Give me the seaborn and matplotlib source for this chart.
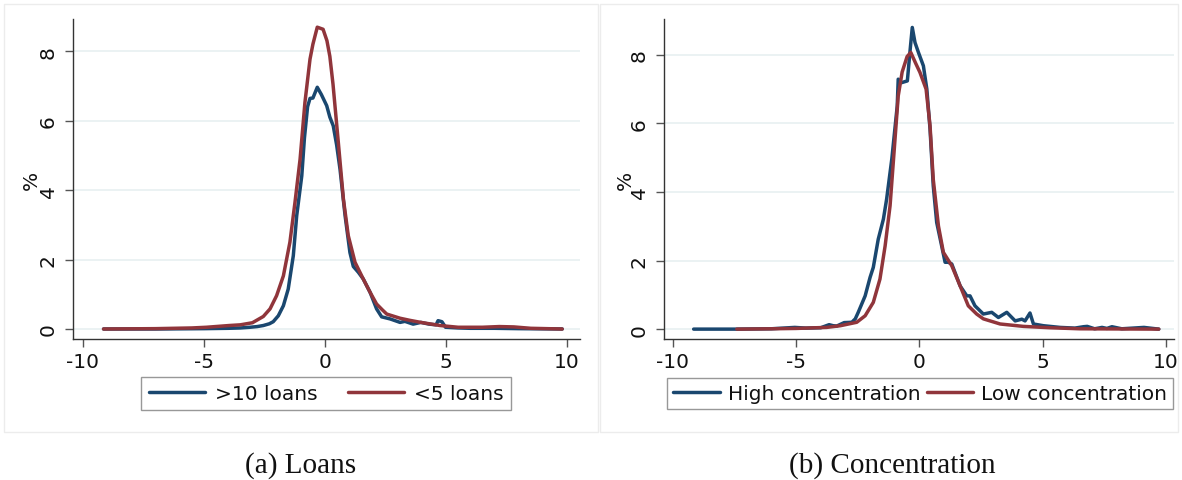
import numpy as np
import pandas as pd
import matplotlib
matplotlib.use("Agg")
import matplotlib.pyplot as plt
from matplotlib.patches import Rectangle
import seaborn as sns

# values (x = change, y = %)
loans_many_x = [-9.15, -7.0, -5.0, -4.0, -3.5, -3.1, -2.8, -2.55, -2.3, -2.14, -1.93, -1.72, -1.52,
                -1.31, -1.17, -0.96, -0.85, -0.72, -0.62, -0.5, -0.32, -0.15, 0.07, 0.2, 0.34, 0.48,
                0.62, 0.83, 1.03, 1.17, 1.38, 1.58, 1.86, 2.13, 2.34, 2.69, 3.1, 3.3, 3.64, 3.96,
                4.3, 4.59, 4.67, 4.83, 4.98, 5.5, 6.0, 7.0, 8.0, 9.8]
loans_many_y = [0.0, 0.0, 0.01, 0.02, 0.03, 0.05, 0.07, 0.1, 0.15, 0.21, 0.38, 0.67, 1.15,
                2.11, 3.26, 4.41, 5.5, 6.4, 6.64, 6.65, 6.96, 6.75, 6.43, 6.1, 5.85, 5.3,
                4.6, 3.26, 2.2, 1.8, 1.63, 1.44, 1.06, 0.58, 0.35, 0.29, 0.19, 0.22, 0.14, 0.19,
                0.14, 0.12, 0.24, 0.21, 0.05, 0.03, 0.02, 0.02, 0.01, 0.0]

loans_few_x = [-9.15, -7.0, -5.5, -4.9, -3.96, -3.5, -3.0, -2.7, -2.55, -2.27, -2.0, -1.72, -1.45,
               -1.24, -1.03, -0.83, -0.62, -0.5, -0.32, -0.08, 0.08, 0.2, 0.33, 0.55, 0.76, 0.96,
               1.24, 1.58, 1.86, 2.13, 2.37, 2.55, 3.1, 3.5, 3.96, 4.75, 5.5, 6.5, 7.2, 7.8, 8.5, 9.8]
loans_few_y = [0.0, 0.01, 0.03, 0.05, 0.1, 0.12, 0.18, 0.3, 0.36, 0.58, 0.96, 1.53, 2.5,
               3.65, 4.89, 6.52, 7.77, 8.2, 8.69, 8.63, 8.3, 7.85, 7.05, 5.37, 3.74, 2.69,
               1.92, 1.44, 1.06, 0.72, 0.55, 0.43, 0.31, 0.25, 0.19, 0.1, 0.05, 0.05, 0.07, 0.06, 0.02, 0.0]

conc_high_x = [-9.15, -7.4, -6.0, -5.05, -4.6, -4.0, -3.66, -3.5, -3.35, -3.05, -2.74, -2.6, -2.48,
               -2.2, -2.0, -1.87, -1.67, -1.46, -1.33, -1.12, -0.9, -0.86, -0.72, -0.49, -0.38,
               -0.29, -0.18, -0.04, 0.16, 0.3, 0.43, 0.56, 0.7, 0.9, 1.04, 1.17, 1.31, 1.65, 1.92,
               2.05, 2.25, 2.59, 2.93, 3.2, 3.54, 3.88, 4.15, 4.28, 4.48, 4.62, 5.02, 5.7, 6.3,
               6.65, 6.8, 7.1, 7.4, 7.6, 7.8, 8.2, 9.1, 9.7]
conc_high_y = [0.0, 0.0, 0.01, 0.05, 0.03, 0.04, 0.13, 0.1, 0.09, 0.19, 0.2, 0.3, 0.49,
               0.97, 1.51, 1.8, 2.62, 3.21, 3.79, 4.96, 6.51, 7.29, 7.19, 7.24, 8.12,
               8.8, 8.36, 8.07, 7.68, 7.0, 5.83, 4.18, 3.11, 2.43, 1.95, 1.95, 1.9, 1.26, 0.97,
               0.97, 0.68, 0.44, 0.49, 0.34, 0.49, 0.24, 0.29, 0.24, 0.47, 0.15, 0.1, 0.05, 0.03,
               0.07, 0.08, 0.01, 0.05, 0.02, 0.07, 0.01, 0.05, 0.0]

conc_low_x = [-7.4, -6.0, -5.0, -4.2, -3.76, -3.2, -2.54, -2.2, -1.87, -1.6, -1.39, -1.19, -1.03,
              -0.86, -0.7, -0.5, -0.35, -0.15, 0.02, 0.27, 0.43, 0.56, 0.77, 0.97, 1.31, 1.65,
              1.98, 2.32, 2.59, 3.27, 4.21, 5.3, 6.5, 9.7]
conc_low_y = [0.0, 0.01, 0.02, 0.04, 0.05, 0.1, 0.2, 0.39, 0.78, 1.46, 2.43, 3.6, 5.15,
              6.8, 7.5, 7.95, 8.07, 7.75, 7.49, 7.0, 5.93, 4.37, 3.01, 2.24, 1.85, 1.26,
              0.68, 0.44, 0.3, 0.15, 0.08, 0.04, 0.01, 0.0]

panels = [
    ("(a) Loans", [(">10 loans", loans_many_x, loans_many_y), ("<5 loans", loans_few_x, loans_few_y)]),
    ("(b) Concentration", [("High concentration", conc_high_x, conc_high_y),
                           ("Low concentration", conc_low_x, conc_low_y)]),
]
y_ticks = [0, 2, 4, 6, 8]
x_ticks = [-10, -5, 0, 5, 10]

blue = "#1a476f"
red = "#90353b"
fs = 14.5

sns.set_theme(style="white")
plt.rcParams["font.family"] = ["DejaVu Sans"]

fig = plt.figure(figsize=(11.82, 4.81), dpi=100)

# panel frames
fig.add_artist(Rectangle((4 / 1182, 48 / 481), 594 / 1182, 428 / 481, transform=fig.transFigure,
                         fill=False, edgecolor="#ececec", lw=1))
fig.add_artist(Rectangle((600 / 1182, 48 / 481), 578 / 1182, 428 / 481, transform=fig.transFigure,
                         fill=False, edgecolor="#ececec", lw=1))

axes_pos = [[0.0618, 0.293, 0.429, 0.665], [0.5618, 0.293, 0.4315, 0.665]]
xlims = [(-10.41, 10.54), (-10.35, 10.32)]
ylims = [(-0.29, 8.92), (-0.29, 9.04)]
label_x = [-0.063, -0.057]
caption_x = [0.254, 0.755]
leg_pos = [(0.276, 0.179), (0.7785, 0.179)]
leg_opts = [dict(handlelength=2.8, handletextpad=0.5, columnspacing=1.5, borderpad=0.35),
            dict(handlelength=2.3, handletextpad=0.4, columnspacing=0.3, borderpad=0.3)]

for i, (caption, series) in enumerate(panels):
    ax = fig.add_axes(axes_pos[i])
    for (name, xs, ys), col in zip(series, [blue, red]):
        df = pd.DataFrame({"x": xs, "y": ys})
        sns.lineplot(data=df, x="x", y="y", ax=ax, color=col, lw=2.5, label=name,
                     estimator=None, sort=True)
    ax.set_xlim(*xlims[i])
    ax.set_ylim(*ylims[i])
    ax.set_xticks(x_ticks)
    ax.set_yticks(y_ticks)
    ax.set_xticklabels([str(t) for t in x_ticks])
    ax.set_yticklabels([str(t) for t in y_ticks], rotation=90, va="center")
    ax.grid(axis="y", color="#e8f0f1", lw=1.2)
    ax.grid(axis="x", visible=False)
    for s in ["top", "right"]:
        ax.spines[s].set_visible(False)
    for s in ["left", "bottom"]:
        ax.spines[s].set_color("#333333")
        ax.spines[s].set_linewidth(1.0)
    ax.tick_params(axis="both", which="major", length=6, width=1, color="#555555",
                   labelsize=fs, labelcolor="#111111", direction="out",
                   bottom=True, left=True, pad=3)
    ax.tick_params(axis="y", pad=5)
    ax.set_xlabel("")
    ax.set_ylabel("%", fontsize=fs, color="#111111")
    ax.yaxis.set_label_coords(label_x[i], 0.5)
    leg = ax.legend(loc="center", bbox_to_anchor=leg_pos[i], bbox_transform=fig.transFigure,
                    ncol=2, fontsize=fs, frameon=True, fancybox=False,
                    labelcolor="#111111", **leg_opts[i])
    leg.get_frame().set_edgecolor("#7f7f7f")
    leg.get_frame().set_linewidth(1.0)
    fig.text(caption_x[i], 0.033, caption, ha="center", va="center", fontsize=21,
             color="#111111", family=["Liberation Serif"])

fig.savefig("out.png", dpi=100)
